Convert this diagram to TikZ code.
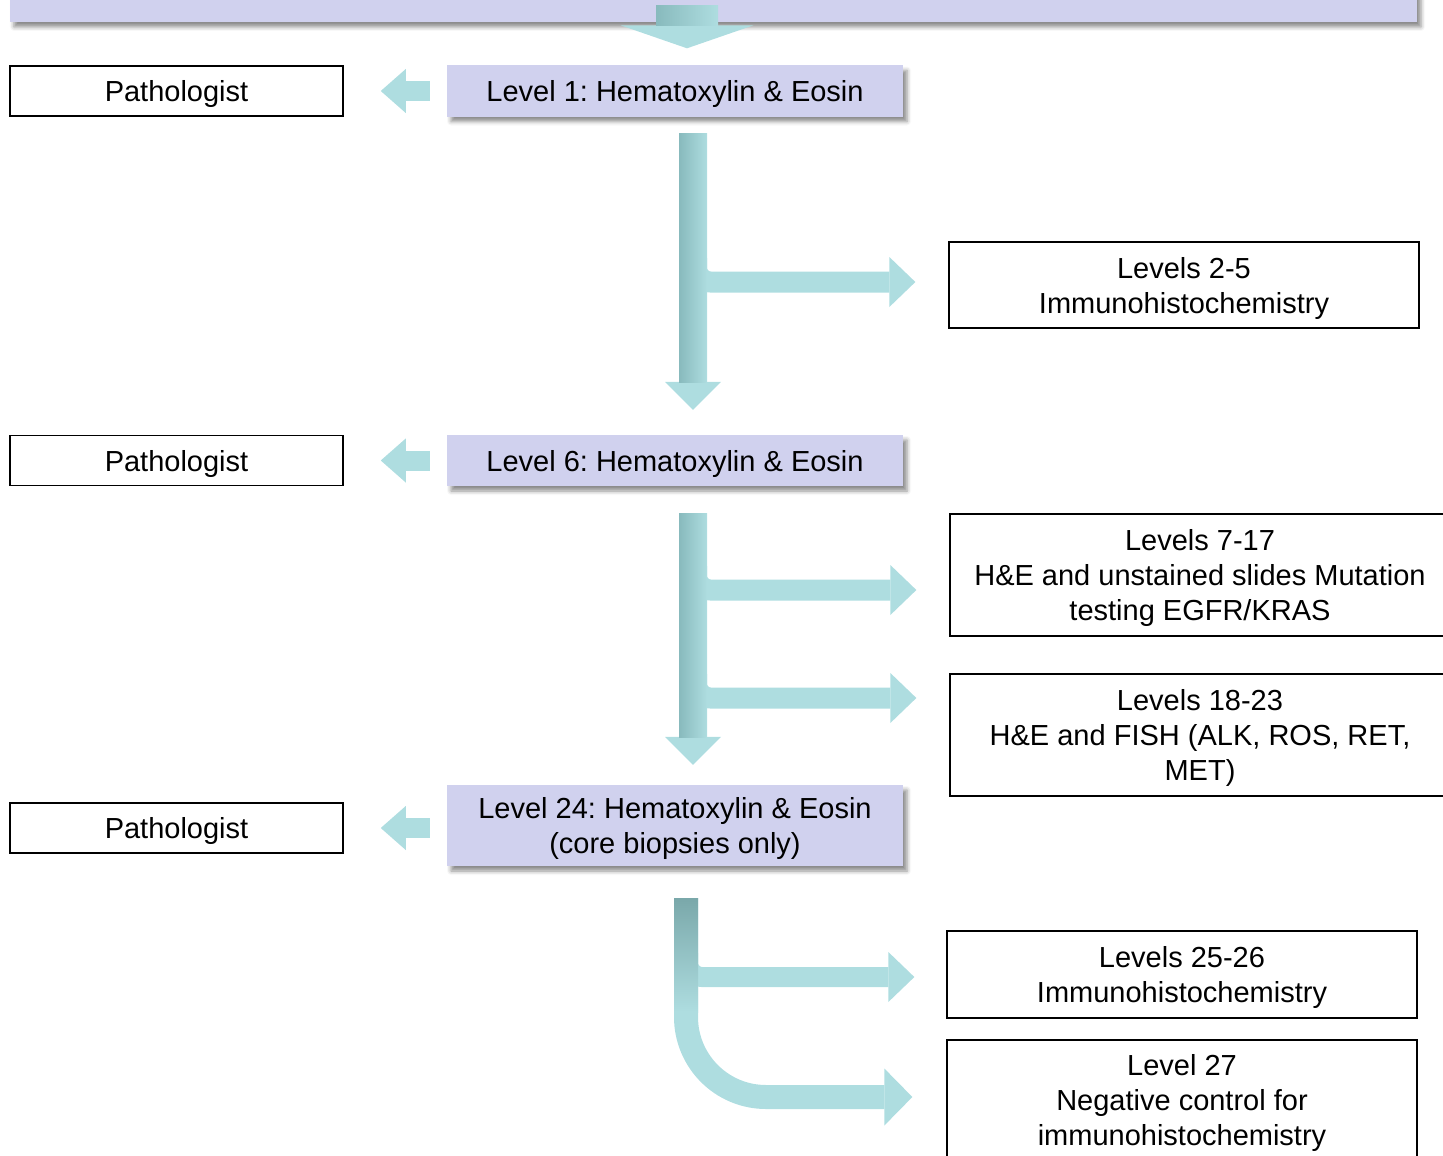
\documentclass[tikz,border=0pt]{standalone}
\usepackage{fontspec}
\setmainfont{Liberation Sans}
\usepackage{xcolor}
\usetikzlibrary{arrows.meta,shadows,shadows.blur}
\frenchspacing

\definecolor{stainfill}{RGB}{208,209,238}
\definecolor{tealarrow}{RGB}{174,221,224}
\definecolor{tealdark}{RGB}{136,186,189}
\definecolor{tealdeep}{RGB}{122,168,170}

\begin{document}
\begin{tikzpicture}[x=1pt, y=-1pt,
	every node/.style={font=\fontsize{29}{35}\selectfont, align=center, inner sep=0pt, text depth=0pt},
	stain/.style={fill=stainfill, minimum width=456pt, minimum height=51pt,
		blur shadow={shadow xshift=4pt, shadow yshift=-5pt, shadow blur radius=4pt, shadow opacity=45}},
	doctor/.style={draw=black, line width=1.5pt, fill=white, minimum width=333pt, minimum height=50pt},
	levels/.style={draw=black, line width=1.3pt, fill=white, minimum width=470pt},
	fatdown/.style={draw=tealarrow, line width=28pt, -{Triangle[length=28pt 0 0, width=56pt 0 0, line width=0pt]}},
	fatleft/.style={draw=tealarrow, line width=20pt, -{Triangle[length=25pt 0 0, width=44pt 0 0, line width=0pt]}},
	branch/.style={draw=tealarrow, line width=21pt, rounded corners=14pt, -{Triangle[length=26pt 0 0, width=50pt 0 0, line width=0pt]}}]
	\useasboundingbox (0, 0) rectangle (1443, 1156);

	% stain levels and readers
	\node [stain, minimum width=1407pt, minimum height=62pt] (0) at (713.5, -9) {};
	\node [doctor] (1) at (176.5, 91) {Pathologist};
	\node [stain] (2) at (675, 91) {Level 1: Hematoxylin \& Eosin};
	\node [levels, minimum height=86pt] (3) at (1184, 285) {Levels 2-5\\Immunohistochemistry};
	\node [doctor] (4) at (176.5, 460.5) {Pathologist};
	\node [stain] (5) at (675, 460.5) {Level 6: Hematoxylin \& Eosin};
	\node [levels, minimum width=500pt, minimum height=122pt] (6) at (1200, 575) {Levels 7-17\\H\&E and unstained slides Mutation\\testing EGFR/KRAS};
	\node [levels, minimum width=500pt, minimum height=122pt] (7) at (1200, 735) {Levels 18-23\\H\&E and FISH (ALK, ROS, RET,\\MET)};
	\node [doctor] (8) at (176.5, 828) {Pathologist};
	\node [stain, minimum height=81pt] (9) at (675, 825.5) {Level 24: Hematoxylin \& Eosin\\(core biopsies only)};
	\node [levels, minimum height=87pt] (10) at (1182, 974.5) {Levels 25-26\\Immunohistochemistry};
	\node [levels, minimum height=120pt] (11) at (1182, 1100) {Level 27\\Negative control for\\immunohistochemistry};

	% fork points on the spines
	\coordinate (f1) at (696.5, 282);
	\coordinate (f2) at (696.5, 590);
	\coordinate (f3) at (696.5, 698);
	\coordinate (f4) at (688, 977);
	\coordinate (c5) at (686, 1097);

	% top arrow
	\draw [draw=tealarrow, line width=62pt, -{Triangle[length=23pt 0 0, width=133pt 0 0, line width=0pt]}] ([xshift=-26.5pt, yshift=16pt]0.south) to ([xshift=12pt, yshift=17pt]2.north);
	\shade [left color=tealdark, right color=tealarrow] (656, 6) rectangle (718, 26);

	% to the pathologist
	\draw [fatleft, shorten <=17pt, shorten >=37pt] (2) to (1);
	\draw [fatleft, shorten <=17pt, shorten >=37pt] (5) to (4);
	\draw [fatleft, shorten <=17pt, shorten >=37pt] (9.west |- 8.east) to (8.east);

	% first block
	\draw [branch, shorten >=33pt] ([yshift=24pt]f1) -- (f1) -- (f1 -| 3.west);
	\draw [fatdown, shorten <=17pt, shorten >=25pt] ([xshift=18pt]2.south) to ([xshift=18pt]5.north);
	\shade [left color=tealdark, right color=tealarrow] (679, 133) rectangle (707, 382);

	% second block
	\draw [branch, shorten >=33pt] ([yshift=24pt]f2) -- (f2) -- (f2 -| 6.west);
	\draw [branch, shorten >=33pt] ([yshift=24pt]f3) -- (f3) -- (f3 -| 7.west);
	\draw [fatdown, shorten <=27pt, shorten >=20pt] ([xshift=18pt]5.south) to ([xshift=18pt]9.north);
	\shade [left color=tealdark, right color=tealarrow] (679, 513) rectangle (707, 737);

	% third block
	\draw [branch, line width=20pt, shorten >=32pt] ([yshift=24pt]f4) -- (f4) -- (f4 -| 10.west);
	\draw [draw=tealarrow, line width=24pt, rounded corners=80pt, shorten <=32pt, shorten >=34pt, -{Triangle[length=28pt 0 0, width=57pt 0 0, line width=0pt]}] ([xshift=11pt]9.south) -- (c5) -- (c5 -| 11.west);
	\shade [top color=tealdeep, bottom color=tealarrow] (674, 898) rectangle (698, 1012);
\end{tikzpicture}
\end{document}
